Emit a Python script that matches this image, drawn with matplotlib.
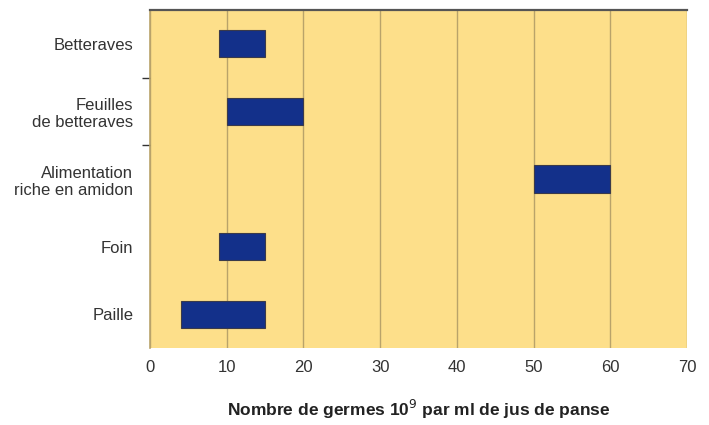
import matplotlib.pyplot as plt

categories = ['Betteraves', 'Feuilles\nde betteraves', 'Alimentation\nriche en amidon', 'Foin', 'Paille']
low_values = [9, 10, 50, 9, 4]
high_values = [15, 20, 60, 15, 15]

BG = '#fddf8a'
BAR = '#13308a'
GRID = '#b9a36a'

fig = plt.figure(figsize=(7.09, 4.25), dpi=100)
ax = fig.add_axes([150 / 709, 1 - 348 / 425, 537 / 709, 338 / 425])
ax.set_facecolor(BG)

y_pos = list(range(len(categories)))
widths = [h - l for l, h in zip(low_values, high_values)]
ax.barh(y_pos, widths, left=low_values, height=0.4, color=BAR,
        edgecolor='#3a3a4a', linewidth=0.8, zorder=3)

ax.set_ylim(len(categories) - 0.5, -0.5)
ax.set_xlim(0, 70)
ax.set_xticks(range(0, 71, 10))
ax.set_yticks(y_pos)
ax.set_yticklabels(categories, fontsize=12, color='#333333',
                   family='Liberation Sans', linespacing=1.2)
ax.tick_params(axis='y', length=0, pad=12)
ax.set_yticks([0.5, 1.5], minor=True)
ax.tick_params(axis='y', which='minor', length=6, color='#333333', width=1)
ax.tick_params(axis='x', length=0, pad=9, labelsize=12, labelcolor='#333333')
for lbl in ax.get_xticklabels():
    lbl.set_family('Liberation Sans')

ax.grid(axis='x', color=GRID, linewidth=1, zorder=1)
ax.set_axisbelow(True)

for side in ['right', 'bottom']:
    ax.spines[side].set_visible(False)
ax.spines['left'].set_color(GRID)
ax.spines['left'].set_linewidth(1.2)
ax.spines['top'].set_color('#555555')
ax.spines['top'].set_linewidth(1.6)

ax.set_xlabel('Nombre de germes 10$^{9}$ par ml de jus de panse', fontsize=12.5,
              fontweight='bold', color='#222222', family='Liberation Sans', labelpad=16)

fig.savefig('out.png', dpi=100)
